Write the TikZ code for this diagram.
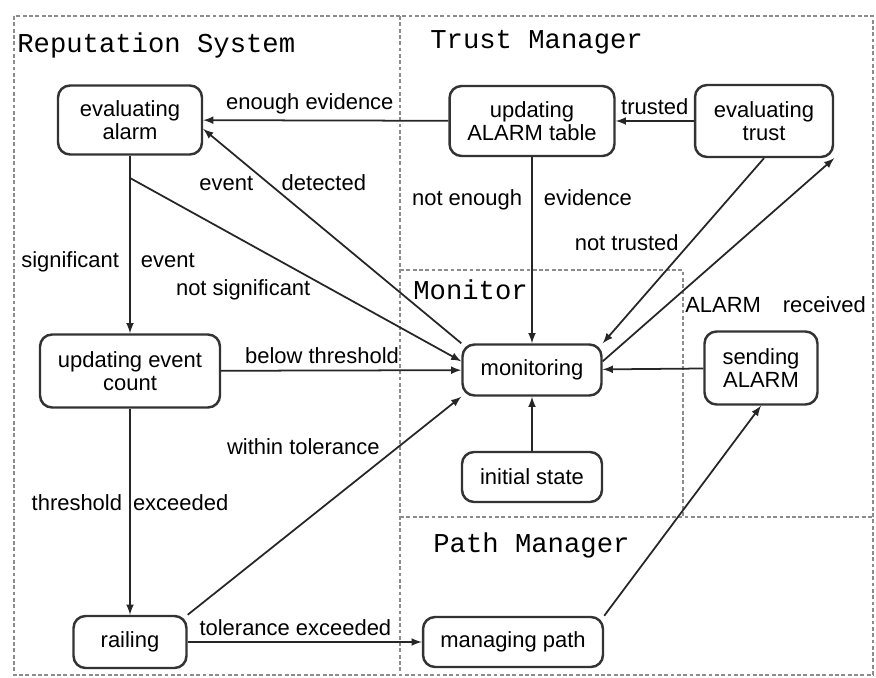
\documentclass[tikz,border=0pt]{standalone}
\usepackage{fontspec}
\setmainfont{Liberation Sans}
\setmonofont{Liberation Mono}
\usepackage{tikz}
\usetikzlibrary{shapes, arrows, positioning}
\tikzstyle{estado} = [draw=black!80, line width=1.4pt, rectangle, rounded corners=0.24cm, align=center, inner sep=3pt]
\tikzstyle{transicion} = [draw=black!85, line width=1pt, -latex]
\tikzstyle{zona} = [draw=black!45, line width=1.2pt, dash pattern=on 2.2pt off 1.4pt]
\tikzstyle{titulozona} = [font=\ttfamily\fontsize{15.5}{16}\selectfont, anchor=west, inner sep=0pt]

\begin{document}
\begin{tikzpicture}[x=0.02cm, y=-0.02cm, font=\fontsize{12.5}{13.2}\selectfont]
	\useasboundingbox (0,0) rectangle (876,678);
	\draw[zona] (14,16) rectangle (873,675);
	\draw[zona] (400,16) -- (400,675);
	\draw[zona] (400,270) -- (683,270) -- (683,517);
	\draw[zona] (400,517) -- (873,517);
	\node[titulozona] (trep) at (17,45) {Reputation System};
	\node[titulozona] (ttrust) at (430,42) {Trust Manager};
	\node[titulozona] (tmon) at (413,290) {Monitor};
	\node[titulozona] (tpath) at (433,545) {Path Manager};

	\node[estado, minimum width=2.88cm, minimum height=1.38cm] (evalalarm) at (130,120) {evaluating\\alarm};
	\node[estado, minimum width=3.3cm, minimum height=1.4cm] (tabla) at (532,121) {updating\\ALARM table};
	\node[estado, minimum width=2.76cm, minimum height=1.44cm] (evaltrust) at (764,121) {evaluating\\trust};
	\node[estado, minimum width=3.6cm, minimum height=1.46cm] (evcount) at (130,371) {updating event\\count};
	\node[estado, minimum width=2.78cm, minimum height=1.02cm] (monit) at (532,370) {monitoring};
	\node[estado, minimum width=2.26cm, minimum height=1.46cm] (sending) at (761,368) {sending\\ALARM};
	\node[estado, minimum width=2.8cm, minimum height=1.0cm] (init) at (532,477) {initial state};
	\node[estado, minimum width=2.26cm, minimum height=1.04cm] (railing) at (130,642) {railing};
	\node[estado, minimum width=3.6cm, minimum height=1.0cm] (path) at (513,642) {managing path};
	\coordinate (ramal) at (130,178);

	\draw[transicion] (tabla) -- node[above, pos=0.565] {enough evidence} (evalalarm);
	\draw[transicion] (evaltrust) -- node[above] {trusted} (tabla);
	\draw[transicion] (tabla) -- node[pos=0.23, xshift=-0.2cm] {not enough\quad evidence} (monit);
	\draw[transicion] (monit.north west) -- node[pos=0.75, xshift=0.3cm] {event\hspace{1.3em}detected} (evalalarm.-7);
	\draw[transicion] (evalalarm) -- node[pos=0.596, xshift=-0.44cm] {significant\quad event} (evcount);
	\draw[transicion] (ramal) -- node[pos=0.61, left=0.3cm] {not significant} (monit.173);
	\draw[transicion] (evcount) -- node[above, pos=0.42] {below threshold} (monit);
	\draw[transicion] (evcount) -- node[pos=0.454] {threshold\enskip exceeded} (railing);
	\draw[transicion] (railing.north east) -- node[pos=0.77, left=0.24cm] {within tolerance} (monit.south west);
	\draw[transicion] (railing) -- node[above, pos=0.46] {tolerance exceeded} (path);
	\draw[transicion] (path.north east) -- (sending.south);
	\draw[transicion] (sending) -- (monit);
	\draw[transicion] (init) -- (monit);
	\draw[transicion] (evaltrust.south) -- node[pos=0.457, left=0.1cm] {not trusted} (monit.north east);
	\draw[transicion] (monit.7) -- node[pos=0.28, right=0.22cm] {ALARM\quad received} (evaltrust.south east);
\end{tikzpicture}
\end{document}
